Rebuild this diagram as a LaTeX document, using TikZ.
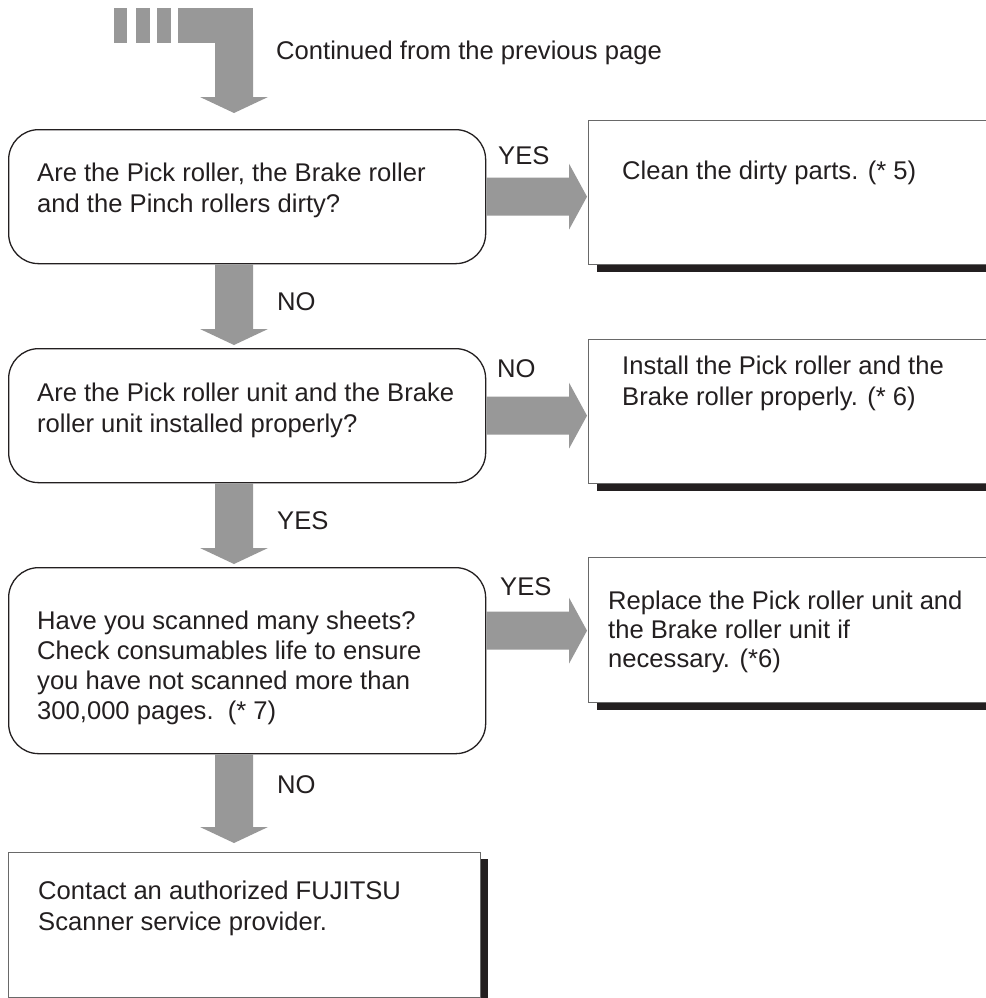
\documentclass[tikz,border=0pt]{standalone}
\usepackage{fontspec}
\setmainfont{Liberation Sans}
\usetikzlibrary{calc}
\definecolor{arrowgray}{RGB}{152,152,152}
\definecolor{ink}{RGB}{35,31,32}
\definecolor{edgegray}{RGB}{105,105,105}
% block arrow pointing down: #1 start, #2 target point, #3 gap before target
\newcommand\blkdown[3]{%
  \fill[arrowgray] let \p1=(#1), \p2=(#2) in
    (\x1-19pt,\y1) -- (\x1+19pt,\y1) -- (\x1+19pt,\y2+#3+16pt) -- (\x1+34pt,\y2+#3+16pt)
    -- (\x1,\y2+#3) -- (\x1-34pt,\y2+#3+16pt) -- (\x1-19pt,\y2+#3+16pt) -- cycle;}
% block arrow pointing right: #1 start, #2 target point
\newcommand\blkright[2]{%
  \fill[arrowgray] let \p1=(#1), \p2=(#2) in
    (\x1,\y1+19pt) -- (\x2-19pt,\y1+19pt) -- (\x2-19pt,\y1+33pt) -- (\x2-1pt,\y1)
    -- (\x2-19pt,\y1-33pt) -- (\x2-19pt,\y1-19pt) -- (\x1,\y1-19pt) -- cycle;}
\begin{document}
\begin{tikzpicture}[x=1pt,y=-1pt,
  txt/.style={font=\fontsize{25.6pt}{31pt}\selectfont, text=ink, inner sep=0pt, align=left, anchor=west},
  decision/.style={draw=ink, line width=1.3pt, rounded corners=30pt, anchor=north west, inner sep=0pt},
  resbox/.style={draw=edgegray, line width=1.1pt, fill=white, anchor=north west, inner sep=0pt},
  shadowfill/.style={fill=ink}]
\useasboundingbox[fill=white] (0,0) rectangle (985,998);

% incoming "continued" arrow
\fill[arrowgray] (114,8) rectangle (127,43);
\fill[arrowgray] (136,8) rectangle (150,43);
\fill[arrowgray] (157,8) rectangle (171,43);
\fill[arrowgray] (178,8) rectangle (253,43);
\coordinate (ax) at (234,30);
\node[txt] (cont) at (276,53) {Continued from the previous page};

% decisions
\node[decision, minimum width=477pt, minimum height=134pt] (d1) at (8,129) {};
\node[decision, minimum width=477pt, minimum height=134pt] (d2) at (8,348) {};
\node[decision, minimum width=477pt, minimum height=186pt] (d3) at (8,567) {};

\node[txt] (d1t) at (37,190) {Are the Pick roller, the Brake roller\\and the Pinch rollers dirty?};
\node[txt] (d2t) at (37,410) {Are the Pick roller unit and the Brake\\roller unit installed properly?};
\node[txt, font=\fontsize{25.6pt}{30pt}\selectfont] (d3t) at (37,668) {Have you scanned many sheets?\\Check consumables life to ensure\\you have not scanned more than\\300,000 pages.\ \ (* 7)};

% result boxes (running off the right edge)
\fill[shadowfill] (597,262) rectangle (1040,272);
\node[resbox, minimum width=450pt, minimum height=144pt] (r1) at (588,120) {};
\fill[shadowfill] (597,481) rectangle (1040,491);
\node[resbox, minimum width=450pt, minimum height=144pt] (r2) at (588,339) {};
\fill[shadowfill] (597,700) rectangle (1040,710);
\node[resbox, minimum width=450pt, minimum height=145pt] (r3) at (588,557) {};

\node[txt] (r1t) at (622,173) {Clean the dirty parts. (* 5)};
\node[txt] (r2t) at (622,383) {Install the Pick roller and the\\Brake roller properly. (* 6)};
\node[txt, font=\fontsize{25.6pt}{29pt}\selectfont] (r3t) at (608,632) {Replace the Pick roller unit and\\the Brake roller unit if\\necessary. (*6)};

% final box
\fill[shadowfill] (478,859) rectangle (488,1010);
\node[resbox, minimum width=472pt, minimum height=145pt] (fin) at (8,852) {};
\node[txt] (fint) at (38,908) {Contact an authorized FUJITSU\\Scanner service provider.};

% connectors
\blkdown{ax}{ax |- d1.north}{16pt}
\blkdown{ax |- d1.south}{ax |- d2.north}{3pt}
\blkdown{ax |- d2.south}{ax |- d3.north}{3pt}
\blkdown{ax |- d3.south}{ax |- fin.north}{9pt}

\blkright{d1.east}{d1.east -| r1.west}
\blkright{d2.east}{d2.east -| r2.west}
\coordinate (d3out) at ([yshift=30pt]d3.east);
\blkright{d3out}{d3out -| r3.west}

% labels
\node[txt] (l1) at (498,156) {YES};
\node[txt] (l2) at (277,302) {NO};
\node[txt] (l3) at (497,369) {NO};
\node[txt] (l4) at (277,521) {YES};
\node[txt] (l5) at (500,587) {YES};
\node[txt] (l6) at (277,785) {NO};
\end{tikzpicture}
\end{document}
